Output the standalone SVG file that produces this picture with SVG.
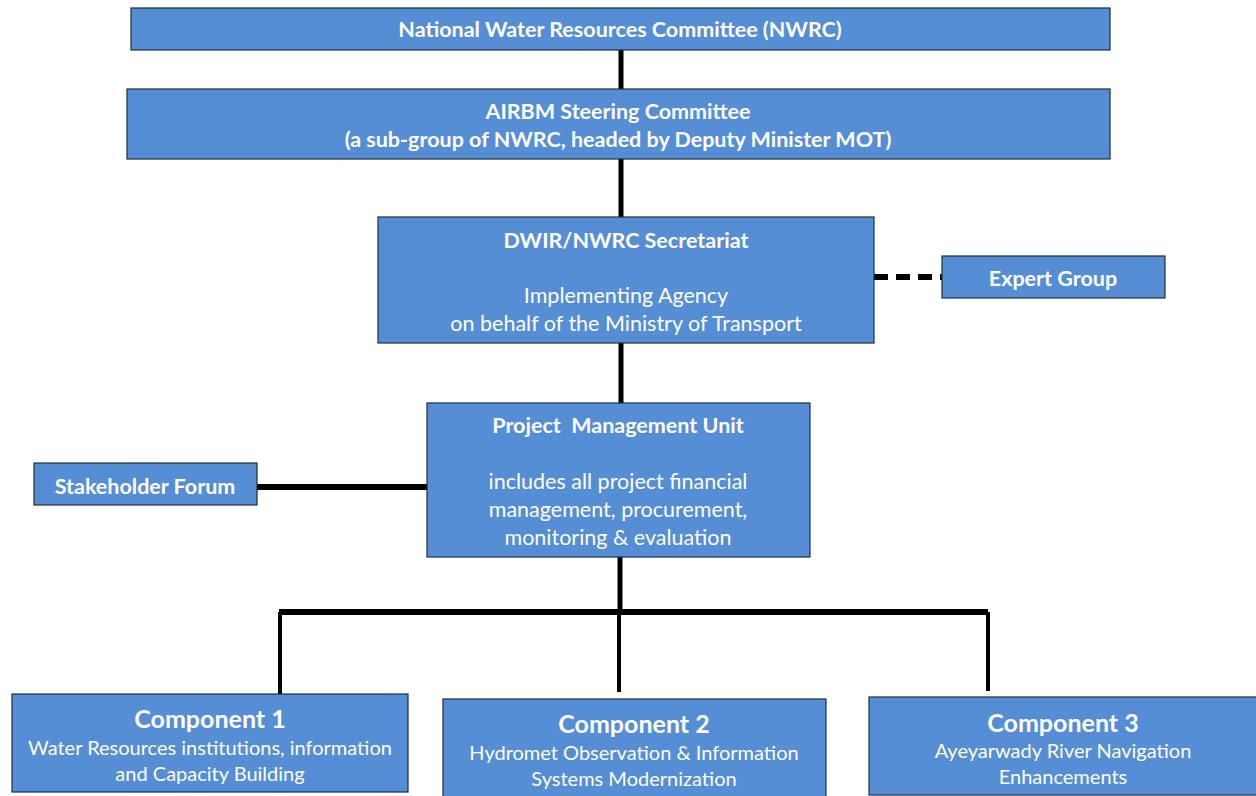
<svg xmlns="http://www.w3.org/2000/svg" width="1256" height="796" viewBox="0 0 1256 796">
<style>
.box{fill:#558ed5;stroke:#1f2d3d;stroke-width:1.2}
text{font-family:Lato,"Open Sans","Liberation Sans",sans-serif;fill:#fff;text-anchor:middle;dominant-baseline:central}
.b{font-weight:700;font-size:21.5px}
.n{font-size:21.5px}
.t{font-weight:700;font-size:25px}
.s{font-size:20px}
.c{stroke:#000;fill:none}
</style>
<rect width="1256" height="796" fill="#fff"/>
<g id="connectors">
<line class="c" x1="621" y1="50" x2="621" y2="89" stroke-width="5"/>
<line class="c" x1="621" y1="159" x2="621" y2="217" stroke-width="5"/>
<line class="c" x1="621" y1="343" x2="621" y2="403" stroke-width="5"/>
<line class="c" x1="620" y1="557" x2="620" y2="612" stroke-width="5"/>
<line class="c" x1="874" y1="277" x2="942" y2="277" stroke-width="6" stroke-dasharray="14,8"/>
<line class="c" x1="257" y1="487" x2="427" y2="487" stroke-width="6"/>
<line class="c" x1="279" y1="612" x2="988" y2="612" stroke-width="6"/>
<line class="c" x1="280" y1="612" x2="280" y2="694" stroke-width="4"/>
<line class="c" x1="619" y1="612" x2="619" y2="692" stroke-width="4"/>
<line class="c" x1="988" y1="612" x2="988" y2="691" stroke-width="4"/>
</g>
<g id="nwrc"><rect class="box" x="131" y="8" width="979" height="42"/><text class="b" x="620" y="29">National Water Resources Committee (NWRC)</text></g>
<g id="steering"><rect class="box" x="127" y="89" width="983" height="70"/><text class="b" x="618" y="111">AIRBM Steering Committee</text><text class="b" x="618" y="139">(a sub-group of NWRC, headed by Deputy Minister MOT)</text></g>
<g id="secretariat"><rect class="box" x="378" y="217" width="496" height="126"/><text class="b" x="626" y="240">DWIR/NWRC Secretariat</text><text class="n" x="626" y="295">Implementing Agency</text><text class="n" x="626" y="323">on behalf of the Ministry of Transport</text></g>
<g id="expert"><rect class="box" x="942" y="256" width="223" height="42"/><text class="b" x="1053" y="278">Expert Group</text></g>
<g id="pmu"><rect class="box" x="427" y="403" width="383" height="154"/><text class="b" x="618" y="425" xml:space="preserve">Project  Management Unit</text><text class="n" x="618" y="481">includes all project financial</text><text class="n" x="618" y="509">management, procurement,</text><text class="n" x="618" y="537">monitoring &amp; evaluation</text></g>
<g id="stakeholder"><rect class="box" x="34" y="463" width="223" height="42"/><text class="b" x="145" y="486">Stakeholder Forum</text></g>
<g id="comp1"><rect class="box" x="12" y="694" width="396" height="98"/><text class="t" x="210" y="718">Component 1</text><text class="s" x="210" y="747">Water Resources institutions, information</text><text class="s" x="210" y="773">and Capacity Building</text></g>
<g id="comp2"><rect class="box" x="443" y="699" width="383" height="100"/><text class="t" x="634" y="723">Component 2</text><text class="s" x="634" y="752">Hydromet Observation &amp; Information</text><text class="s" x="634" y="778">Systems Modernization</text></g>
<g id="comp3"><rect class="box" x="869" y="697" width="390" height="98"/><text class="t" x="1063" y="722">Component 3</text><text class="s" x="1063" y="750">Ayeyarwady River Navigation</text><text class="s" x="1063" y="776">Enhancements</text></g>
</svg>
